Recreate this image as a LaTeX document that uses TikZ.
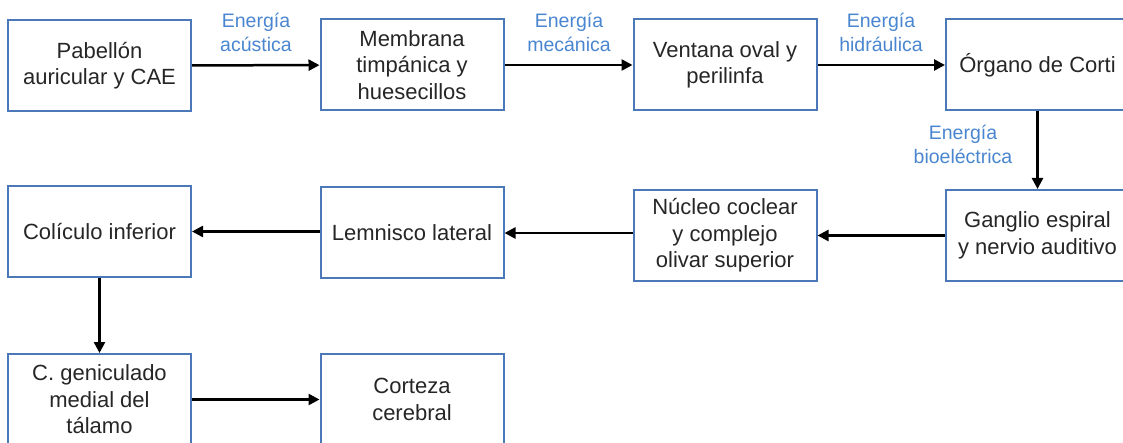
\documentclass[tikz,border=0pt]{standalone}
\usepackage{fontspec}
\setmainfont{Liberation Sans}
\usetikzlibrary{arrows.meta}
\definecolor{boxblue}{HTML}{4A78B8}
\definecolor{lblblue}{HTML}{4A86CF}
\definecolor{txt}{HTML}{262626}
\begin{document}
\begin{tikzpicture}[x=1pt,y=-1pt,
  blk/.style={draw=boxblue, line width=2pt, minimum width=183pt, minimum height=91pt,
    inner sep=0pt, align=center, text=txt, font=\fontsize{22}{26.5}\selectfont},
  lbl/.style={text=lblblue, align=center, inner sep=0pt, font=\fontsize{19.5}{24}\selectfont},
  arr/.style={line width=2.5pt, -{Triangle[length=11pt,width=11pt]}}]
\useasboundingbox (0,0) rectangle (1123,443);
\clip (0,0) rectangle (1123,443);
\node[blk] (pab) at (99.5,65.5) {Pabellón\\auricular y CAE};
\node[blk] (mem) at (412,65) {Membrana\\timpánica y\\huesecillos};
\node[blk] (ven) at (725,65) {Ventana oval y\\perilinfa};
\node[blk] (cor) at (1037.5,65) {Órgano de Corti};
\node[blk] (gan) at (1037.5,235.5) {Ganglio espiral\\y nervio auditivo};
\node[blk] (nuc) at (725,235.5) {Núcleo coclear\\y complejo\\olivar superior};
\node[blk] (lem) at (412,233) {Lemnisco lateral};
\node[blk] (col) at (99.5,231.5) {Colículo inferior};
\node[blk] (gen) at (99.5,399.5) {C. geniculado\\medial del\\tálamo};
\node[blk] (ctz) at (412,399.5) {Corteza\\cerebral};
\node[lbl] (l1) at (256,32) {Energía\\acústica};
\node[lbl] (l2) at (569,32) {Energía\\mecánica};
\node[lbl] (l3) at (881,32) {Energía\\hidráulica};
\node[lbl] (l4) at (963,144) {Energía\\bioeléctrica};
\draw[arr] (pab) -- (mem);
\draw[arr] (mem) -- (ven);
\draw[arr] (ven) -- (cor);
\draw[arr] (cor) -- (gan);
\draw[arr] (gan) -- (nuc);
\draw[arr] (nuc.west |- lem.east) -- (lem.east);
\draw[arr] (lem.west |- col.east) -- (col.east);
\draw[arr] (col) -- (gen);
\draw[arr] (gen) -- (ctz);
\end{tikzpicture}
\end{document}
